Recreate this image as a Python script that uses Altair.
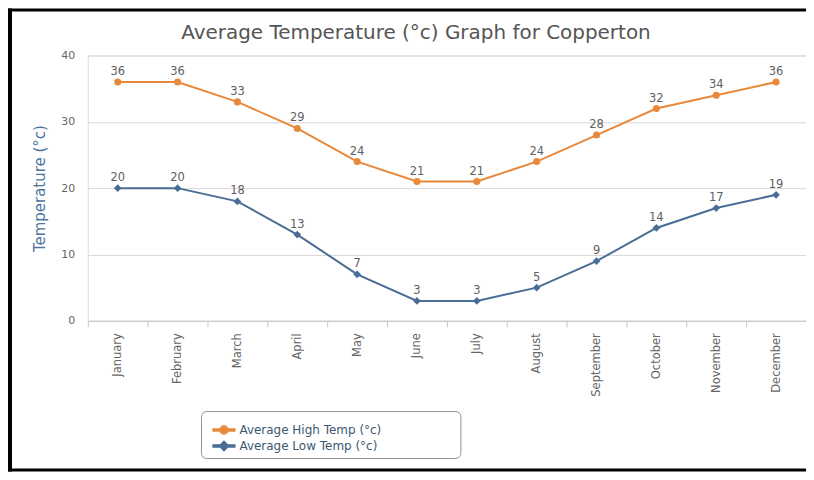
import altair as alt
import pandas as pd

months = ["January", "February", "March", "April", "May", "June", "July",
          "August", "September", "October", "November", "December"]
high = [36, 36, 33, 29, 24, 21, 21, 24, 28, 32, 34, 36]
low = [20, 20, 18, 13, 7, 3, 3, 5, 9, 14, 17, 19]
series_names = ["Average High Temp (°c)", "Average Low Temp (°c)"]
colors = ["#E8883A", "#4A6D96"]
y_ticks = [0, 10, 20, 30, 40]
chart_title = "Average Temperature (°c) Graph for Copperton"

FONT = "DejaVu Sans"

df = pd.DataFrame({
    "month": months * 2,
    "temp": high + low,
    "series": [series_names[0]] * 12 + [series_names[1]] * 12,
})

# legend symbols: line with circle / line with diamond (wider than tall)
sym_circle = ("M-1.45,-0.13L1.45,-0.13L1.45,0.13L-1.45,0.13Z "
              "M0.53,0A0.53,0.53 0 1,1 -0.53,0A0.53,0.53 0 1,1 0.53,0Z")
sym_diamond = ("M-1.45,-0.13L1.45,-0.13L1.45,0.13L-1.45,0.13Z "
               "M0,-0.62L0.62,0L0,0.62L-0.62,0Z")

x = alt.X(
    "month:N", sort=months,
    scale=alt.Scale(type="band", paddingInner=0, paddingOuter=0),
    axis=alt.Axis(title=None, labelAngle=-90, tickBand="extent", grid=False,
                  domainColor="#C0C8D0", tickColor="#C0C8D0", tickSize=6,
                  labelPadding=6, labelColor="#666666", labelFontSize=11.5,
                  labelFont=FONT),
)
y = alt.Y(
    "temp:Q", scale=alt.Scale(domain=[0, 40]),
    axis=alt.Axis(title="Temperature (°c)", values=y_ticks, domain=False,
                  ticks=False, gridColor="#D8D8D8", labelPadding=13,
                  labelColor="#666666", labelFontSize=11, labelFont=FONT,
                  titleColor="#4D759E", titleFontSize=15,
                  titleFontWeight="normal", titleFont=FONT, titlePadding=13),
)
legend_spec = alt.Legend(orient="none", legendX=114, legendY=358,
                         title=None, padding=9,
                         symbolSize=225, symbolOpacity=1, symbolOffset=5,
                         labelFontSize=12, labelFont=FONT,
                         labelColor="#3E576F", rowPadding=0,
                         labelOffset=7, labelLimit=400)
color_enc = alt.Color("series:N",
                      scale=alt.Scale(domain=series_names, range=colors),
                      legend=legend_spec)

base = alt.Chart(df)

lines = base.mark_line(strokeWidth=2).encode(x=x, y=y, color=color_enc)

pts_high = base.transform_filter(alt.datum.series == series_names[0]).mark_point(
    shape="circle", filled=True, size=50, opacity=1).encode(x=x, y=y, color=color_enc)
pts_low = base.transform_filter(alt.datum.series == series_names[1]).mark_point(
    shape="diamond", filled=True, size=60, opacity=1).encode(x=x, y=y, color=color_enc)

labels = base.mark_text(dy=-10, fontSize=11.5, font=FONT, color="#606060").encode(
    x=x, y=y, text="temp:Q")

legend_layer = base.mark_point(filled=True, size=0, opacity=1).encode(
    x=x, y=y,
    color=color_enc,
    shape=alt.Shape("series:N", scale=alt.Scale(domain=series_names,
                                                range=[sym_circle, sym_diamond]),
                    legend=legend_spec),
)

bd = alt.Chart(pd.DataFrame({"title": [chart_title]}))
legend_box = bd.mark_rect(fill="white", stroke="#909090", strokeWidth=1,
                          cornerRadius=5).encode(
    x=alt.value(114), x2=alt.value(374), y=alt.value(357), y2=alt.value(404))
title_mark = bd.mark_text(fontSize=20, font=FONT, color="#555555",
                          align="center", baseline="middle").encode(
    text="title:N", x=alt.value(329), y=alt.value(-23))
border_left = bd.mark_rule(color="black", strokeWidth=4).encode(
    x=alt.value(-78), y=alt.value(-47), y2=alt.value(417))
border_top = bd.mark_rule(color="black", strokeWidth=3).encode(
    x=alt.value(-80), x2=alt.value(720), y=alt.value(-45.5))
border_bottom = bd.mark_rule(color="black", strokeWidth=3).encode(
    x=alt.value(-80), x2=alt.value(720), y=alt.value(415.5))

chart = alt.layer(
    legend_box, lines, pts_high, pts_low, labels, legend_layer, title_mark,
    border_left, border_top, border_bottom,
).properties(
    width=720, height=266,
    autosize=alt.AutoSizeParams(type="none"),
    padding={"left": 80, "top": 47, "right": 0, "bottom": 151},
).configure_view(stroke=None).configure(background="white")

chart.save("out.html", embed_options={"renderer": "svg", "actions": False})
